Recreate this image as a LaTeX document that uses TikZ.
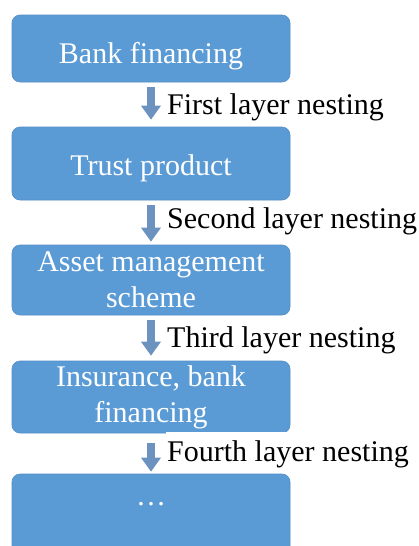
\documentclass[tikz,border=0pt]{standalone}
\usepackage{fontspec}
\setmainfont{Liberation Serif}
\usetikzlibrary{arrows.meta}
\definecolor{boxblue}{RGB}{91,155,213}
\definecolor{boxedge}{RGB}{84,142,200}
\definecolor{arrowblue}{RGB}{108,146,192}
\begin{document}
\begin{tikzpicture}[x=1pt,y=-1pt,
  box/.style={draw=boxedge, line width=0.6pt, fill=boxblue, rounded corners=8pt,
    minimum width=278pt, text=white, inner sep=0pt,
    font=\fontsize{30}{36}\selectfont, align=center},
  nestarrow/.style={draw=arrowblue, line width=8pt,
    -{Triangle[width=19pt,length=14pt]}},
  nestlabel/.style={anchor=base west, inner sep=1pt, fill=white,
    font=\fontsize{30}{36}\selectfont}]
\clip (0,0) rectangle (418,546);
\fill[white] (0,0) rectangle (418,546);
% boxes
\node[box, minimum height=67pt, text height=29pt, text depth=0pt] (b1) at (151,48.5) {Bank financing};
\node[box, minimum height=73pt, text height=23pt, text depth=0pt] (b2) at (151,163.5) {Trust product};
\node[box, minimum height=70pt] (b3) at (151,280) {Asset management\\scheme};
\node[box, minimum height=72pt] (b4) at (151,397) {Insurance, bank\\financing};
\node[box, minimum height=80pt, text height=0pt, text depth=18pt] (b5) at (151,514) {…};
% arrows
\draw[nestarrow, shorten <=5pt, shorten >=7pt] (b1.south) -- (b2.north);
\draw[nestarrow, shorten <=5pt, shorten >=3pt] (b2.south) -- (b3.north);
\draw[nestarrow, shorten <=5pt, shorten >=5pt] (b3.south) -- (b4.north);
\draw[nestarrow, shorten <=10pt, shorten >=2pt] (b4.south) -- (b5.north);
% labels
\node[nestlabel] (l1) at (166,114) {First layer nesting};
\node[nestlabel] (l2) at (166,228) {Second layer nesting};
\node[nestlabel] (l3) at (166,347) {Third layer nesting};
\node[nestlabel, text height=28pt, text depth=10pt] (l4) at (166,461) {Fourth layer nesting};
\end{tikzpicture}
\end{document}
